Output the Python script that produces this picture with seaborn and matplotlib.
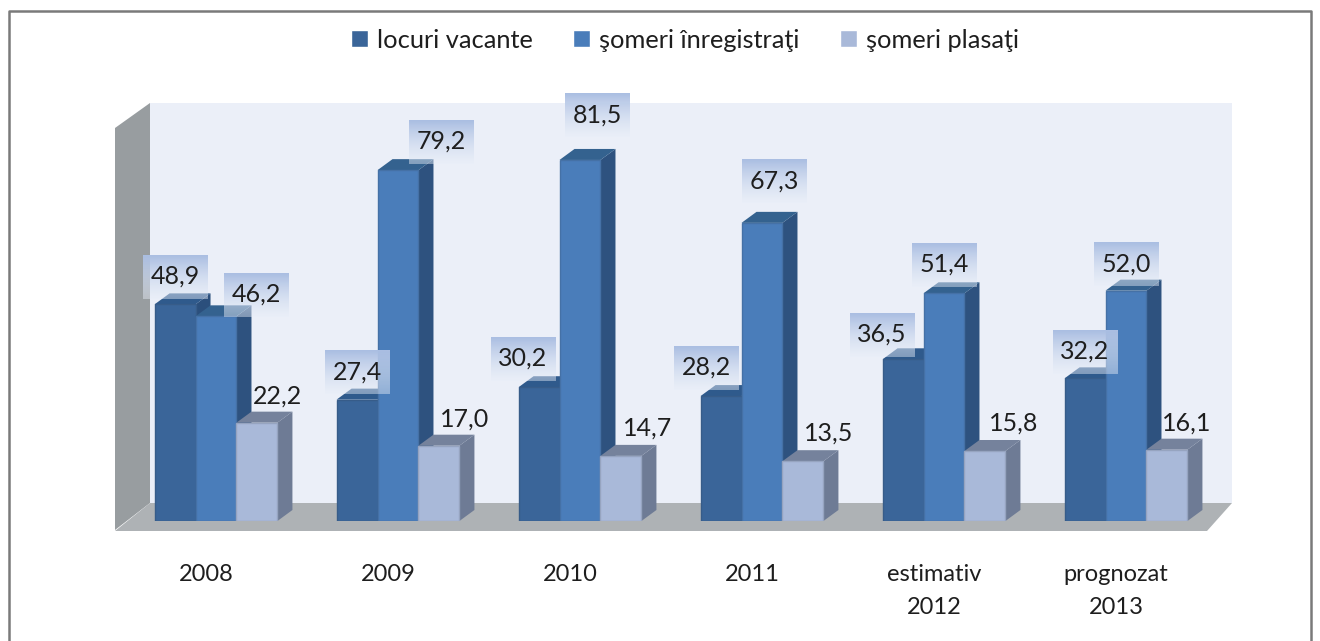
import numpy as np
import pandas as pd
import matplotlib
matplotlib.use("Agg")
import matplotlib.pyplot as plt
from matplotlib.patches import Polygon
from matplotlib.lines import Line2D
from matplotlib.transforms import ScaledTranslation
import seaborn as sns

categories = ["2008", "2009", "2010", "2011", "estimativ\n2012", "prognozat\n2013"]
series_names = ["locuri vacante", "şomeri înregistraţi", "şomeri plasaţi"]
locuri_vacante = [48.9, 27.4, 30.2, 28.2, 36.5, 32.2]
someri_inregistrati = [46.2, 79.2, 81.5, 67.3, 51.4, 52.0]
someri_plasati = [22.2, 17.0, 14.7, 13.5, 15.8, 16.1]

front_colors = ["#3A6599", "#4A7DBA", "#A9B9D9"]
side_colors = ["#2B4F7C", "#2E527F", "#6E7B95"]
top_colors = ["#2F5A8C", "#34628F", "#75829C"]

#hand placed labels in the original, offset in pixels from top of each bar
label_off = [
    [(0, -28), (0, -28), (-16, -29), (-15, -29), (-21, -25), (0, -27)],
    [(40, -22), (43, -29), (17, -45), (12, -42), (0, -29), (0, -27)],
    [(21, -27), (26, -27), (27, -28), (26, -28), (29, -28), (20, -27)],
]

W, H = 1320, 641
FONT = ["Lato", "DejaVu Sans"]

sns.set_theme(style="white")
plt.rcParams["font.family"] = FONT
plt.rcParams["text.color"] = "#1E1E1E"
plt.rcParams["xtick.color"] = "#1E1E1E"


def px(x, y):
    #image pixels (origin top left) to figure coords
    return (x / W, 1 - y / H)


def px_poly(points, color, zorder=-1):
    fig.add_artist(Polygon([px(*p) for p in points], closed=True, facecolor=color,
                           edgecolor="none", transform=fig.transFigure, zorder=zorder))


fig = plt.figure(figsize=(W / 100, H / 100), dpi=100, facecolor="white")

#walls and floor of the fake 3d box
px_poly([(150, 103), (1232, 103), (1232, 503), (150, 503)], "#EBEFF8")
px_poly([(115, 128), (150, 103), (150, 503), (115, 530)], "#989DA0")
px_poly([(115, 531), (150, 503), (1232, 503), (1207, 531)], "#AEB2B5")

#outer frame, bottom edge is cut off in the original
fig.add_artist(Line2D([9 / W, 9 / W, 1311 / W, 1311 / W], [0, 1 - 11 / H, 1 - 11 / H, 0],
                      color="#7A7A7A", lw=1.8, transform=fig.transFigure, zorder=7))

left, right, base = 125, 1217, 521
ax = fig.add_axes([left / W, (H - base) / H, (right - left) / W, (base - 103) / H])
ax.patch.set_visible(False)

df = pd.DataFrame({
    "categorie": categories * 3,
    "serie": np.repeat(series_names, len(categories)),
    "valoare": locuri_vacante + someri_inregistrati + someri_plasati,
})
sns.barplot(data=df, x="categorie", y="valoare", hue="serie", hue_order=series_names,
            palette=front_colors, saturation=1, width=0.675, gap=0, errorbar=None, ax=ax)

ax.set_xlim(-0.5, 5.5)
ax.set_ylim(0, (base - 103) / 4.43)
depth_x = 15 / ((right - left) / 6)
depth_y = 11 / 4.43

for i, cont in enumerate(ax.containers):
    for bar in cont:
        bar.set_zorder(3 + 2 * i)
        bar.set_edgecolor(sns.dark_palette(front_colors[i], 8)[6])
        bar.set_linewidth(1)
        x0, x1 = bar.get_x(), bar.get_x() + bar.get_width()
        h = bar.get_height()
        ax.add_patch(Polygon([(x1, 0), (x1 + depth_x, depth_y), (x1 + depth_x, h + depth_y), (x1, h)],
                             facecolor=side_colors[i], edgecolor="none", zorder=2 + 2 * i, clip_on=False))
        ax.add_patch(Polygon([(x0, h), (x0 + depth_x, h + depth_y), (x1 + depth_x, h + depth_y), (x1, h)],
                             facecolor=top_colors[i], edgecolor="none", zorder=2 + 2 * i, clip_on=False))

#gradient box behind labels of the first two series
grad = np.zeros((44, 65, 4))
grad[..., 0] = np.linspace(170, 232, 44)[:, None] / 255
grad[..., 1] = np.linspace(190, 238, 44)[:, None] / 255
grad[..., 2] = np.linspace(226, 248, 44)[:, None] / 255
grad[..., 3] = np.linspace(1, 0.45, 44)[:, None]

for i, cont in enumerate(ax.containers):
    for bar, (dx, dy) in zip(cont, label_off[i]):
        val = bar.get_height()
        xp, yp = ax.transData.transform((bar.get_x() + bar.get_width() / 2, val))
        xp += dx
        yp -= dy
        if i < 2:
            fig.figimage(grad, int(xp - 32), int(yp - 22), origin="upper", zorder=5)
        fig.text(xp / W, yp / H, f"{val:.1f}".replace(".", ","), ha="center", va="center",
                 fontsize=18, zorder=6)

ax.set_xlabel("")
ax.set_ylabel("")
ax.set_yticks([])
ax.tick_params(axis="x", length=0, pad=31, labelsize=17)
shift = ScaledTranslation(-10 / 100, 0, fig.dpi_scale_trans)
for lab in ax.get_xticklabels():
    lab.set_transform(lab.get_transform() + shift)
    lab.set_linespacing(1.7)
sns.despine(ax=ax, left=True, bottom=True)

handles, labels = ax.get_legend_handles_labels()
ax.legend(handles, labels, ncols=3, loc="center", frameon=False, fontsize=18.3,
          bbox_to_anchor=(685 / W, 1 - 40 / H), bbox_transform=fig.transFigure,
          handlelength=0.67, handleheight=0.67, handletextpad=0.35, columnspacing=1.6)

fig.savefig("out.png", dpi=100)
